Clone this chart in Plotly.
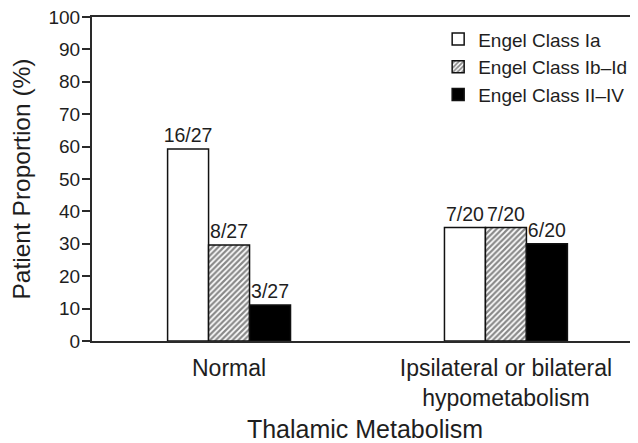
import plotly.graph_objects as go

categories = ["Normal", "Ipsilateral or bilateral<br>hypometabolism"]
series_names = ["Engel Class Ia", "Engel Class Ib\u2013Id", "Engel Class II\u2013IV"]
class_ia = [16 / 27 * 100, 7 / 20 * 100]
class_ib_id = [8 / 27 * 100, 7 / 20 * 100]
class_ii_iv = [3 / 27 * 100, 6 / 20 * 100]
labels_ia = ["16/27", "7/20"]
labels_ib_id = ["8/27", "7/20"]
labels_ii_iv = ["3/27", "6/20"]
y_ticks = [0, 10, 20, 30, 40, 50, 60, 70, 80, 90, 100]

FONT = "Liberation Sans, Arial, Helvetica, sans-serif"
TXT = "#1e1e1e"
LINE = "#2a2a2a"

fig = go.Figure()

common = dict(
    textposition="outside",
    textfont=dict(family=FONT, size=19.5, color=TXT),
    cliponaxis=False,
    constraintext="none",
)

fig.add_trace(go.Bar(
    name=series_names[0], x=categories, y=class_ia, text=labels_ia,
    marker=dict(color="white", line=dict(color="#111111", width=1.5)),
    **common,
))
fig.add_trace(go.Bar(
    name=series_names[1], x=categories, y=class_ib_id, text=labels_ib_id,
    marker=dict(
        color="white",
        line=dict(color="#111111", width=1.5),
        pattern=dict(shape="/", fgcolor="#111111", bgcolor="white", size=4, solidity=0.55),
    ),
    **common,
))
fig.add_trace(go.Bar(
    name=series_names[2], x=categories, y=class_ii_iv, text=labels_ii_iv,
    marker=dict(color="black", line=dict(color="#111111", width=1.5)),
    **common,
))

# the page body keeps its default 8px margin, so the figure is 8px smaller
fig.update_layout(
    width=630, height=435,
    margin=dict(l=84, r=0, t=9, b=102, autoexpand=False),
    paper_bgcolor="white", plot_bgcolor="white",
    barmode="group", bargap=0.556, bargroupgap=0,
    font=dict(family=FONT, color=TXT),
    showlegend=True,
    legend=dict(
        x=0.634, y=0.99, xanchor="left", yanchor="top",
        bgcolor="rgba(0,0,0,0)", borderwidth=0,
        font=dict(family=FONT, size=19, color=TXT),
        itemwidth=30, traceorder="normal",
        tracegroupgap=0,
    ),
)

fig.update_xaxes(
    type="category", range=[-0.495, 1.477], automargin=False,
    showline=True, linecolor=LINE, linewidth=2, mirror=True,
    ticks="", showgrid=False, zeroline=False,
    ticklabelstandoff=5,
    tickfont=dict(family=FONT, size=23, color=TXT),
    title=dict(text="Thalamic Metabolism", font=dict(family=FONT, size=25, color=TXT), standoff=12),
)
fig.update_yaxes(
    range=[0, 100], tickvals=y_ticks, automargin=False,
    showline=True, linecolor=LINE, linewidth=2,
    ticks="outside", ticklen=8, tickwidth=2, tickcolor=LINE,
    showgrid=False, zeroline=False,
    ticklabeloverflow="allow", ticklabelstandoff=-2,
    tickfont=dict(family=FONT, size=19, color=TXT),
    title=dict(text="Patient Proportion (%)", font=dict(family=FONT, size=24.5, color=TXT), standoff=18),
)

fig.write_html("out.html")
